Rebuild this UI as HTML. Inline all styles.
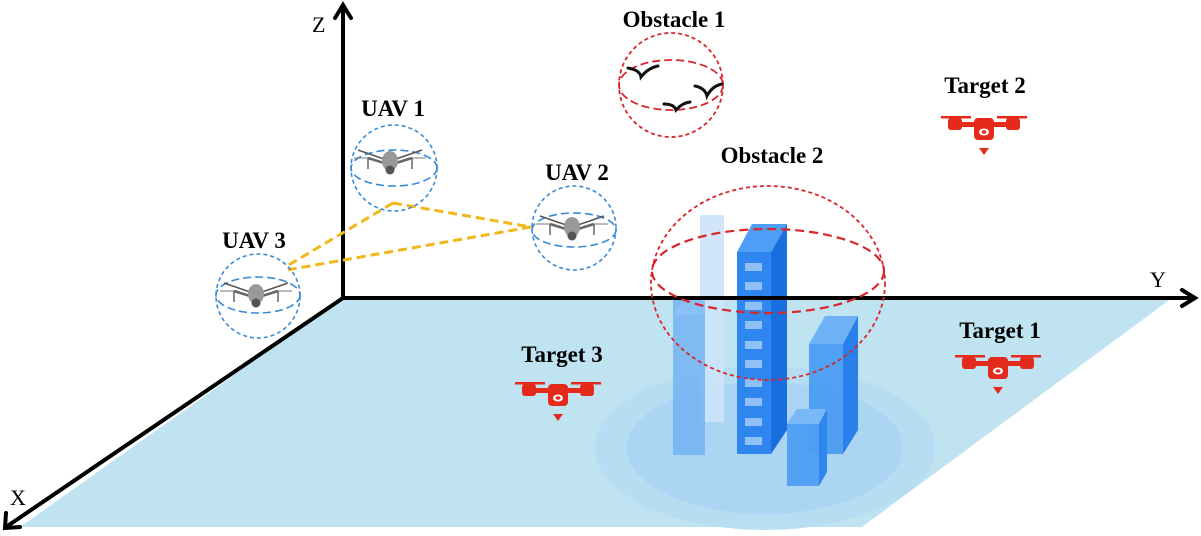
<!DOCTYPE html>
<html><head><meta charset="utf-8"><style>
html,body{margin:0;padding:0;background:#fff;}
svg{display:block;}
text{font-family:"Liberation Serif",serif;}
</style></head><body>
<svg width="1201" height="536" viewBox="0 0 1201 536" xmlns="http://www.w3.org/2000/svg">
<defs>
<g id="gd">
 <line x1="-32" y1="-10" x2="-6" y2="-1" stroke="#555" stroke-width="1.5"/>
 <line x1="32" y1="-10" x2="6" y2="-1" stroke="#555" stroke-width="1.5"/>
 <line x1="-36" y1="-2" x2="-22" y2="-2" stroke="#777" stroke-width="1"/>
 <line x1="36" y1="-2" x2="22" y2="-2" stroke="#777" stroke-width="1"/>
 <line x1="-22" y1="-2" x2="-6" y2="3" stroke="#666" stroke-width="2.5"/>
 <line x1="22" y1="-2" x2="6" y2="3" stroke="#666" stroke-width="2.5"/>
 <line x1="-22" y1="-2" x2="-22" y2="9" stroke="#666" stroke-width="1.5"/>
 <line x1="22" y1="-2" x2="22" y2="9" stroke="#666" stroke-width="1.5"/>
 <ellipse cx="0" cy="1" rx="8" ry="10" fill="#999"/>
 <circle cx="0" cy="10" r="4.5" fill="#555"/>
</g>
<g id="rd" fill="#e42a1a">
 <rect x="-43" y="-7" width="30" height="2.5"/>
 <rect x="13" y="-7" width="30" height="2.5"/>
 <rect x="-36" y="-5" width="14" height="12" rx="3"/>
 <rect x="22" y="-5" width="14" height="12" rx="3"/>
 <rect x="-24" y="-1" width="48" height="5"/>
 <rect x="-10" y="-5" width="20" height="22" rx="4"/>
 <ellipse cx="0" cy="9" rx="5" ry="3.5" fill="#fff"/>
 <ellipse cx="0" cy="9" rx="2.5" ry="1.8"/>
 <polygon points="-5,25 5,25 0,32"/>
</g>
</defs>

<!-- floor -->
<polygon points="343,298 1172,298 862,527 20,527" fill="#bfe3f1"/>
<ellipse cx="765" cy="448" rx="170" ry="82" fill="#b6dcf2" opacity="0.9"/>
<ellipse cx="765" cy="448" rx="138" ry="66" fill="#acd5f3"/>

<!-- buildings -->
<rect x="700" y="215" width="24" height="207" fill="#cde3fa" opacity="0.9"/>
<rect x="673" y="300" width="32" height="155" fill="#6fb0f2" opacity="0.8"/>
<polygon points="673,315 683,300 705,300 705,315" fill="#8cc2f5" opacity="0.8"/>
<rect x="737" y="252" width="34" height="202" fill="#2f86ee"/>
<polygon points="737,252 752,224 787,224 771,252" fill="#4f9ef5"/>
<polygon points="771,252 787,224 787,430 771,454" fill="#1a6fe0"/>
<g fill="#8fc0f7">
<rect x="745" y="263" width="17" height="8"/><rect x="745" y="282" width="17" height="8"/>
<rect x="745" y="302" width="17" height="8"/><rect x="745" y="321" width="17" height="8"/>
<rect x="745" y="341" width="17" height="8"/><rect x="745" y="360" width="17" height="8"/>
<rect x="745" y="379" width="17" height="8"/><rect x="745" y="398" width="17" height="8"/>
<rect x="745" y="418" width="17" height="8"/><rect x="745" y="437" width="17" height="8"/>
</g>
<rect x="809" y="344" width="34" height="110" fill="#4a9cf2" opacity="0.95"/>
<polygon points="809,344 825,316 858,316 843,344" fill="#6fb3f6"/>
<polygon points="843,344 858,316 858,430 843,454" fill="#2a80ea"/>
<rect x="787" y="424" width="32" height="62" fill="#4d9ef2" opacity="0.95"/>
<polygon points="787,424 797,409 827,409 819,424" fill="#79b8f6"/>
<polygon points="819,424 827,409 827,472 819,486" fill="#2f86ee"/>

<!-- axes -->
<g stroke="#000" stroke-width="4" fill="none" stroke-linecap="round">
 <line x1="343" y1="298" x2="343" y2="6"/>
 <polyline points="335,18 343,5 351,18"/>
 <line x1="343" y1="298" x2="1194" y2="298"/>
 <polyline points="1182,290 1195,298 1182,306"/>
 <line x1="343" y1="298" x2="6" y2="527"/>
 <polyline points="6,513 5,528 20,527"/>
</g>
<text x="312" y="32" font-size="22">Z</text>
<text x="1150" y="287" font-size="22">Y</text>
<text x="10" y="505" font-size="22">X</text>

<!-- yellow links -->
<g stroke="#f0b81a" stroke-width="3" stroke-dasharray="9,5" fill="none">
 <line x1="393" y1="203" x2="287" y2="266"/>
 <line x1="393" y1="203" x2="531" y2="227"/>
 <line x1="531" y1="227" x2="287" y2="270"/>
</g>

<!-- UAV spheres -->
<g stroke="#3a8ad6" stroke-width="1.6" fill="none" stroke-dasharray="4,3">
 <circle cx="394" cy="168" r="43"/>
 <ellipse cx="394" cy="168" rx="43" ry="18" stroke-dasharray="8,4"/>
 <circle cx="574" cy="228" r="42"/>
 <ellipse cx="574" cy="230" rx="42" ry="17" stroke-dasharray="8,4"/>
 <circle cx="258" cy="296" r="42"/>
 <ellipse cx="258" cy="295" rx="42" ry="18" stroke-dasharray="8,4"/>
</g>
<use href="#gd" x="390" y="160"/>
<use href="#gd" x="572" y="226"/>
<use href="#gd" x="256" y="293"/>

<!-- obstacle 1 -->
<g stroke="#d9262a" stroke-width="1.8" fill="none">
 <circle cx="671" cy="85" r="52" stroke-dasharray="4,3"/>
 <ellipse cx="671" cy="85" rx="52" ry="25" stroke-dasharray="8,4"/>
</g>
<g fill="none" stroke="#111" stroke-width="3" stroke-linecap="round">
 <path d="M628,68 Q640,70 641,77 Q648,68 658,66"/>
 <path d="M695,86 Q705,88 707,96 Q712,86 722,84"/>
 <path d="M664,104 Q674,104 676,110 Q682,103 690,102"/>
</g>

<!-- obstacle 2 -->
<g stroke="#d9262a" stroke-width="1.8" fill="none">
 <ellipse cx="768" cy="283" rx="117" ry="97" stroke-dasharray="4,3"/>
 <ellipse cx="768" cy="271" rx="116" ry="42" stroke-dasharray="9,5" stroke-width="2.2"/>
</g>

<!-- targets -->
<use href="#rd" x="984" y="123"/>
<use href="#rd" x="998" y="362"/>
<use href="#rd" x="558" y="389"/>

<!-- labels -->
<g font-weight="bold" font-size="23" text-anchor="middle">
 <text x="393" y="116">UAV 1</text>
 <text x="577" y="180">UAV 2</text>
 <text x="254" y="248">UAV 3</text>
 <text x="674" y="27">Obstacle 1</text>
 <text x="772" y="163">Obstacle 2</text>
 <text x="985" y="93">Target 2</text>
 <text x="1000" y="338">Target 1</text>
 <text x="562" y="362">Target 3</text>
</g>
</svg>
</body></html>
